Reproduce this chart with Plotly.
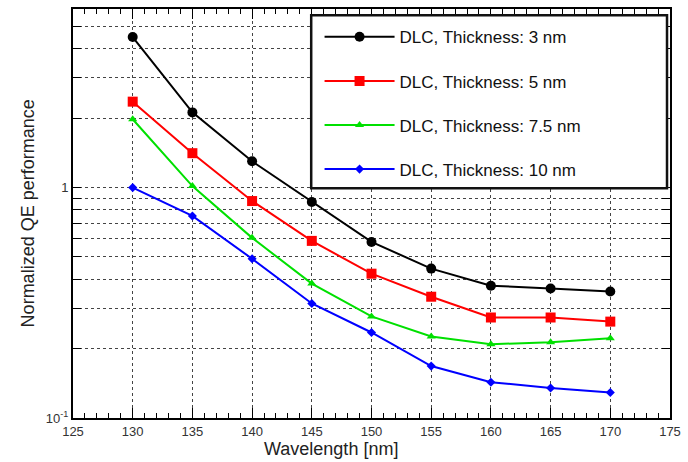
import plotly.graph_objects as go

wavelength = [130, 135, 140, 145, 150, 155, 160, 165, 170]
qe_3nm = [4.5, 2.12, 1.30, 0.866, 0.581, 0.445, 0.375, 0.365, 0.354]
qe_5nm = [2.36, 1.41, 0.874, 0.587, 0.423, 0.336, 0.273, 0.273, 0.262]
qe_7p5nm = [1.98, 1.015, 0.605, 0.383, 0.276, 0.226, 0.209, 0.213, 0.222]
qe_10nm = [1.0, 0.753, 0.491, 0.314, 0.235, 0.168, 0.143, 0.135, 0.129]

series_names = ["DLC, Thickness: 3 nm", "DLC, Thickness: 5 nm",
                "DLC, Thickness: 7.5 nm", "DLC, Thickness: 10 nm"]
series_vals = [qe_3nm, qe_5nm, qe_7p5nm, qe_10nm]
colors = ["#000000", "#ff0000", "#00e000", "#0000ff"]
symbols = ["circle", "square", "triangle-up", "diamond"]
sizes = [10, 10, 8, 7]

y_tickvals = [0.1, 0.2, 0.3, 0.4, 0.5, 0.6, 0.7, 0.8, 0.9, 1, 2, 3, 4, 5]
y_ticktext = ["10<sup>-1</sup>"] + [""] * 8 + ["1"] + [""] * 4
x_tickvals = [125, 130, 135, 140, 145, 150, 155, 160, 165, 170, 175]

fig = go.Figure()
for i, (name, vals) in enumerate(zip(series_names, series_vals)):
    fig.add_trace(go.Scatter(
        x=wavelength, y=vals, name=name, mode="lines+markers",
        line=dict(color=colors[i], width=2),
        marker=dict(color=colors[i], symbol=symbols[i], size=sizes[i]),
        legendgroup=f"g{i}",
    ))

font_family = "Liberation Sans, Arial, sans-serif"

fig.update_layout(
    width=688, height=462,
    margin=dict(l=73, r=13, t=7, b=44),
    paper_bgcolor="white", plot_bgcolor="white",
    font=dict(family=font_family, color="#222"),
    showlegend=True,
    legend=dict(
        x=0.413, y=0.975, xanchor="left", yanchor="top",
        bgcolor="rgba(0,0,0,0)", borderwidth=0,
        font=dict(size=17, color="#111", family=font_family),
        itemwidth=70, tracegroupgap=19,
    ),
    xaxis=dict(
        range=[125, 175], tickvals=x_tickvals,
        ticks="inside", ticklen=10, tickwidth=1, tickcolor="black",
        showline=True, linecolor="black", linewidth=2, mirror="ticks",
        showgrid=True, gridcolor="#444", griddash="dot", gridwidth=1,
        tickfont=dict(size=13, color="#333"),
        minor=dict(dtick=1, ticks="inside", ticklen=5, tickcolor="black", showgrid=False),
        zeroline=False,
    ),
    yaxis=dict(
        type="log", range=[-1, 0.775],
        tickvals=y_tickvals, ticktext=y_ticktext,
        ticks="inside", ticklen=8, tickwidth=1, tickcolor="black",
        showline=True, linecolor="black", linewidth=2, mirror="ticks",
        showgrid=True, gridcolor="#444", griddash="dot", gridwidth=1,
        tickfont=dict(size=13, color="#333"),
        zeroline=False,
    ),
    shapes=[dict(
        type="rect", xref="paper", yref="paper",
        x0=0.399, x1=0.995, y0=0.562, y1=0.985,
        line=dict(color="#111", width=2.5), fillcolor="white", layer="above",
    )],
    annotations=[
        dict(text="Wavelength [nm]", xref="paper", yref="paper",
             x=(333 - 73) / 602, y=(418 - 449) / 411, xanchor="center", yanchor="middle",
             showarrow=False, font=dict(size=18, color="#222")),
        dict(text="Normalized QE performance", xref="paper", yref="paper",
             x=(28 - 73) / 602, y=(418 - 212) / 411, xanchor="center", yanchor="middle",
             textangle=-90, showarrow=False, font=dict(size=18, color="#222")),
    ],
)

fig.write_html("out.html", config={"displayModeBar": False},
               post_script="document.body.style.margin='0px';document.body.style.overflow='hidden';")
